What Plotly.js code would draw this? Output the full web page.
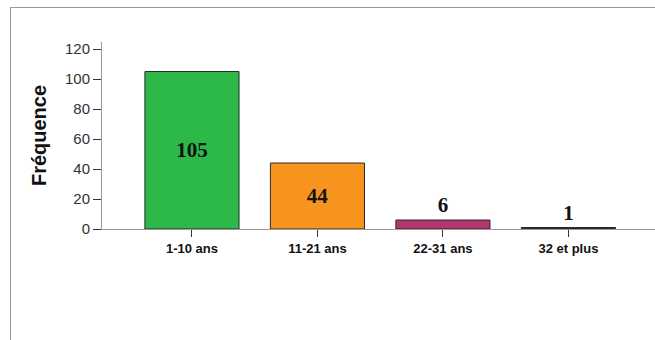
<!DOCTYPE html>
<html><head><meta charset="utf-8">
<script src="https://cdn.plot.ly/plotly-3.0.1.min.js"></script>
<style>
html,body{margin:0;padding:0;background:#fff;}
#wrap{position:relative;width:655px;height:340px;overflow:hidden;}
#frame{position:absolute;left:10px;top:7px;width:660px;height:340px;border-left:1px solid #999;border-top:1px solid #999;pointer-events:none;}
#chart{position:absolute;left:0;top:0;width:655px;height:340px;}
</style></head>
<body>
<div id="wrap"><div id="chart"></div><div id="frame"></div></div>
<script>
const categories = ['1-10 ans', '11-21 ans', '22-31 ans', '32 et plus'];
const frequencies = [105, 44, 6, 1];
const barColors = ['#2db84a', '#f7941d', '#b5366f', '#1c2e20'];
const textPositions = ['inside', 'inside', 'outside', 'outside'];

const trace = {
  type: 'bar',
  x: categories,
  y: frequencies,
  width: 0.75,
  marker: {color: barColors, line: {color: '#2a2a2a', width: 1}},
  text: frequencies.map(String),
  textposition: textPositions,
  insidetextanchor: 'middle',
  constraintext: 'none',
  textangle: 0,
  textfont: {family: 'Liberation Serif, Times New Roman', size: 21, color: '#111', weight: 'bold'},
  cliponaxis: false,
  hoverinfo: 'none'
};

const layout = {
  width: 655, height: 340,
  margin: {l: 102, r: 0, t: 42, b: 111, pad: 0},
  paper_bgcolor: 'rgba(0,0,0,0)',
  plot_bgcolor: 'rgba(0,0,0,0)',
  showlegend: false,
  xaxis: {
    type: 'category',
    range: [-0.717, 3.69],
    showline: true, linecolor: '#999', linewidth: 1,
    ticks: 'outside', ticklen: 7, tickcolor: '#333', tickwidth: 1,
    showgrid: false, zeroline: false,
    tickfont: {family: 'Liberation Sans, Arial', size: 13, color: '#111', weight: 'bold'}
  },
  yaxis: {
    range: [0, 124.7],
    tickvals: [0, 20, 40, 60, 80, 100, 120],
    showline: true, linecolor: '#999', linewidth: 1,
    ticks: 'outside', ticklen: 8, tickcolor: '#333', tickwidth: 1,
    showgrid: false, zeroline: false,
    tickfont: {family: 'Liberation Sans, Arial', size: 15, color: '#333'},
    title: {text: 'Fréquence', standoff: 12, font: {family: 'Liberation Sans, Arial', size: 20, color: '#111', weight: 'bold'}}
  },
  font: {family: 'Liberation Sans, Arial'}
};

Plotly.newPlot('chart', [trace], layout, {staticPlot: true, displayModeBar: false});
</script>
</body></html>
